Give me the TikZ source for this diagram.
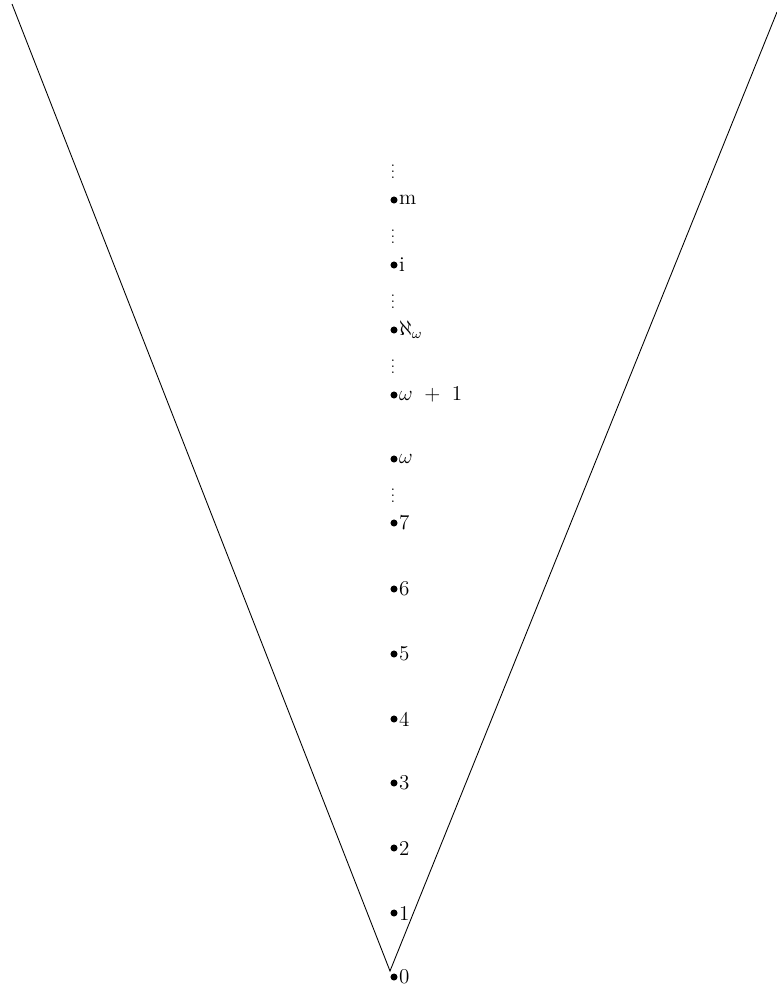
\documentclass[tikz,border=0pt]{standalone}
\usepackage{amssymb}
\tikzset{
  pt/.style={circle,fill=black,inner sep=0pt,minimum size=4pt},
  lab/.style={right,inner sep=0.5pt,font=\large},
  dots/.style={inner sep=0pt,scale=0.85}
}
\begin{document}
\begin{tikzpicture}[x=0.02cm,y=-0.02cm]
\useasboundingbox (0,0) rectangle (777,987);

% Cone
\coordinate (apex) at (390,971);
\coordinate (tl) at (12,4);
\coordinate (tr) at (777,12);
\draw[line width=0.5pt] (tl) -- (apex) -- (tr);

% Points
\foreach \n/\y/\t in {0/977/0,1/913/1,2/848/2,3/783/3,4/719/4,5/654/5,6/589/6,7/523/7,
  w/459/$\omega$,wone/395/$\omega\ +\ 1$,aleph/330/$\aleph_\omega$,i/265/i,m/200/m}
  \node[pt,label={[lab,label distance=0pt]right:\t}] (p\n) at (394,\y) {};

% Dots
\foreach \y in {167,232,297,362,491}
  \node[dots] at (393,\y) {$\vdots$};

\end{tikzpicture}
\end{document}
